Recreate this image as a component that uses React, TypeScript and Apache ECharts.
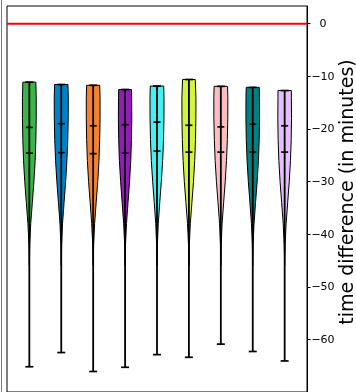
import React, { useEffect, useRef } from "react";
import * as echarts from "echarts";

const CATEGORIES = [1, 2, 3, 4, 5, 6, 7, 8, 9];
const COLORS = ["#3cb44b", "#0082c8", "#f58231", "#911eb4", "#46f0f0", "#d2f53c", "#fabebe", "#008080", "#e6beff"];
const MAXES = [-11.1, -11.55, -11.7, -12.5, -11.85, -10.6, -11.9, -12.1, -12.7];
const MINS = [-65.2, -62.5, -66.1, -65.3, -62.9, -63.4, -60.9, -62.3, -64.1];
const MEDIANS = [-19.7, -19.0, -19.4, -19.2, -18.7, -19.3, -19.6, -19.1, -19.4];
const MEANS = [-24.6, -24.5, -24.7, -24.6, -24.2, -24.4, -24.4, -24.4, -24.4];
// density profile: half-widths (x units) at the max and at shared levels
const LEVELS = [-14, -18, -22, -26, -30, -34, -38, -42, -46];
const TOP_HALF_WIDTHS = [0.204, 0.21, 0.205, 0.2, 0.21, 0.2, 0.21, 0.205, 0.21];
const HALF_WIDTHS = [
  [0.216, 0.216, 0.205, 0.182, 0.144, 0.094, 0.044, 0.013, 0],
  [0.22, 0.218, 0.205, 0.178, 0.138, 0.088, 0.04, 0.012, 0],
  [0.216, 0.216, 0.205, 0.182, 0.144, 0.094, 0.046, 0.014, 0],
  [0.205, 0.21, 0.2, 0.178, 0.14, 0.092, 0.044, 0.013, 0],
  [0.22, 0.218, 0.205, 0.178, 0.136, 0.086, 0.04, 0.012, 0],
  [0.22, 0.218, 0.206, 0.182, 0.144, 0.094, 0.044, 0.013, 0],
  [0.22, 0.218, 0.204, 0.178, 0.138, 0.088, 0.04, 0.012, 0],
  [0.212, 0.214, 0.203, 0.178, 0.138, 0.088, 0.04, 0.012, 0],
  [0.21, 0.215, 0.205, 0.182, 0.144, 0.094, 0.046, 0.014, 0],
];
const Y_TICKS = [0, -10, -20, -30, -40, -50, -60];
const Y_LABEL = "time difference (in minutes)";

const X_MIN = 0.3;
const X_MAX = 9.7;

export default function App() {
  const ref = useRef<HTMLDivElement>(null);
  useEffect(() => {
    if (!ref.current) return;
    const chart = echarts.init(ref.current, undefined, { renderer: "svg" });
    const renderItem = (params: any, api: any) => {
      const i = params.dataIndex;
      const x = api.value(0);
      const mx = MAXES[i];
      const mn = MINS[i];
      const left: number[][] = [];
      const right: number[][] = [];
      left.push(api.coord([x - TOP_HALF_WIDTHS[i], mx]));
      right.push(api.coord([x + TOP_HALF_WIDTHS[i], mx]));
      LEVELS.forEach((lv, k) => {
        if (lv < mx && lv > mn) {
          left.push(api.coord([x - HALF_WIDTHS[i][k], lv]));
          right.push(api.coord([x + HALF_WIDTHS[i][k], lv]));
        }
      });
      const points = left.concat(right.reverse());
      const hl = (v: number, hw: number) => {
        const a = api.coord([x - hw, v]);
        const b = api.coord([x + hw, v]);
        return {
          type: "line",
          shape: { x1: a[0], y1: a[1], x2: b[0], y2: b[1] },
          style: { stroke: "#000", lineWidth: 1.7 },
        };
      };
      const top = api.coord([x, mx]);
      const bot = api.coord([x, mn]);
      return {
        type: "group",
        children: [
          {
            type: "polygon",
            shape: { points },
            style: { fill: COLORS[i], stroke: "#000", lineWidth: 1 },
          },
          {
            type: "line",
            shape: { x1: top[0], y1: top[1], x2: bot[0], y2: bot[1] },
            style: { stroke: "#000", lineWidth: 1.8 },
          },
          hl(mx, 0.125),
          hl(mn, 0.125),
          hl(MEDIANS[i], 0.11),
          hl(MEANS[i], 0.11),
        ],
      };
    };
    chart.setOption({
      animation: false,
      grid: {
        left: 7,
        right: 49,
        top: 6,
        bottom: -6,
        show: true,
        borderColor: "#000",
        borderWidth: 1,
        backgroundColor: "transparent",
      },
      xAxis: {
        type: "value",
        min: X_MIN,
        max: X_MAX,
        show: false,
      },
      yAxis: {
        type: "value",
        position: "right",
        min: -70,
        max: 3.37,
        interval: 10,
        splitLine: { show: false },
        axisLine: { show: true, lineStyle: { color: "#000", width: 1 } },
        axisTick: {
          show: true,
          length: 3.5,
          customValues: Y_TICKS,
          lineStyle: { color: "#000", width: 1 },
        },
        axisLabel: {
          customValues: Y_TICKS,
          margin: 16,
          align: "center",
          fontSize: 11,
          fontFamily: "DejaVu Sans",
          color: "#000",
          formatter: (v: number) => (v < 0 ? "\u2212" + Math.abs(v) : String(v)),
        },
      },
      graphic: [
        {
          type: "rect",
          shape: { x: 1, y: 0, width: 1, height: 392 },
          style: { fill: "#777" },
        },
        {
          type: "text",
          x: 346,
          y: 192,
          rotation: Math.PI / 2,
          style: {
            text: Y_LABEL,
            font: "19px 'DejaVu Sans'",
            fill: "#000",
            textAlign: "center",
            textVerticalAlign: "middle",
          },
        },
      ],
      series: [
        {
          type: "line",
          data: [
            [X_MIN, 0],
            [X_MAX, 0],
          ],
          symbol: "none",
          lineStyle: { color: "#ff0000", width: 2 },
          z: 1,
        },
        {
          type: "custom",
          data: CATEGORIES.map((c) => [c]),
          encode: { x: 0 },
          renderItem,
          z: 2,
        },
      ],
    });
    return () => chart.dispose();
  }, []);
  return (
    <div
      ref={ref}
      style={{ position: "fixed", left: 0, top: 0, width: 356, height: 392 }}
    />
  );
}
